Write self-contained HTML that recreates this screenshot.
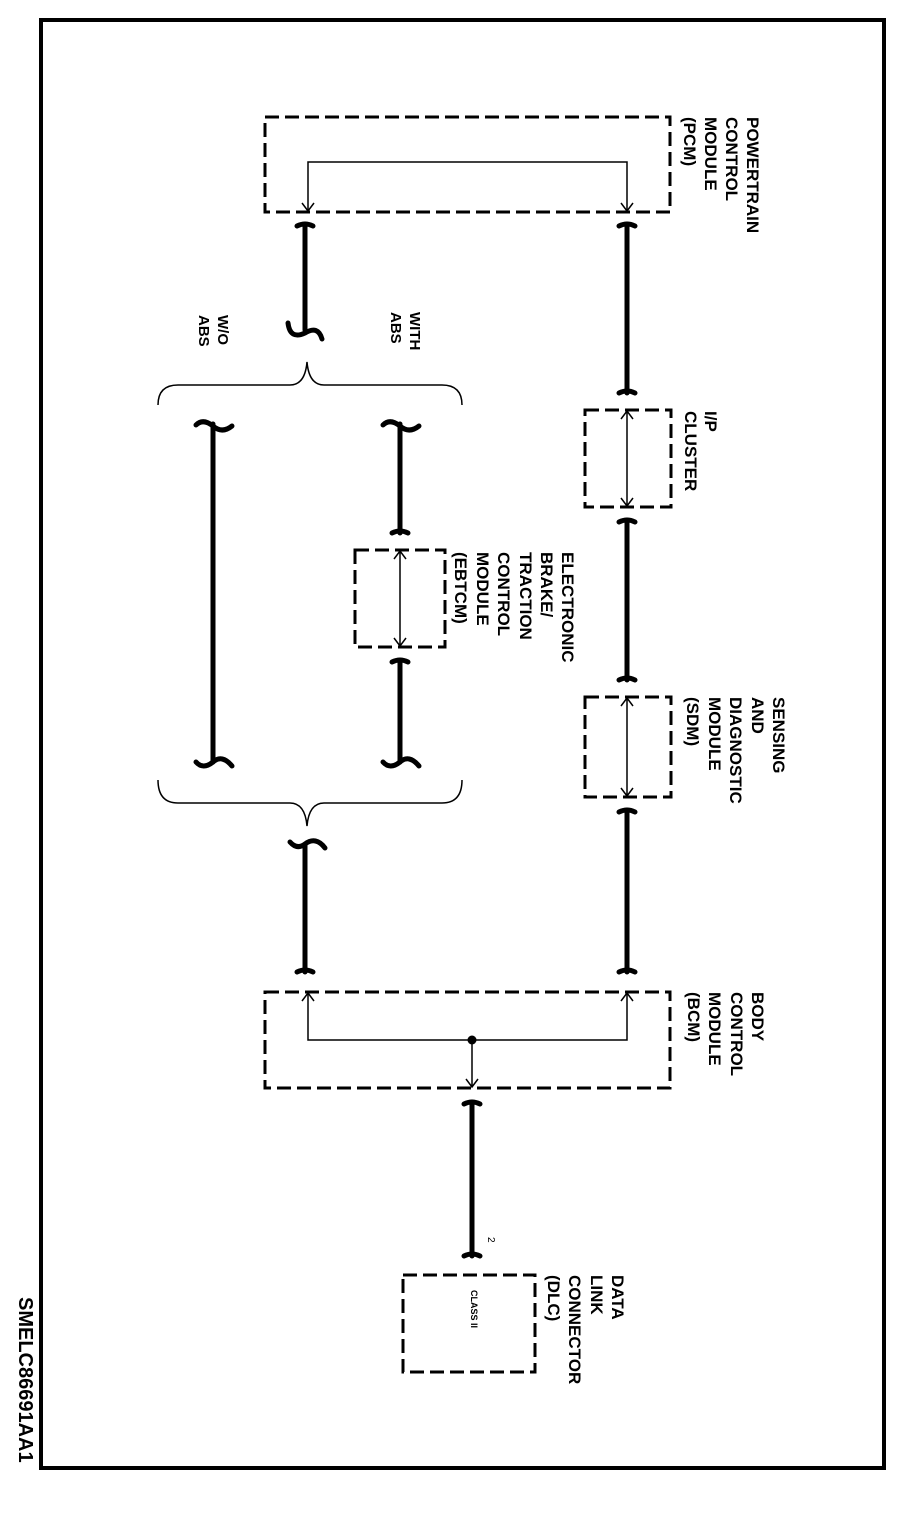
<!DOCTYPE html>
<html><head><meta charset="utf-8"><style>
html,body{margin:0;padding:0;background:#fff}
svg{display:block}
text{font-family:"Liberation Sans",Arial,sans-serif;fill:#000}
</style></head><body>
<svg width="900" height="1520" viewBox="0 0 900 1520" xmlns="http://www.w3.org/2000/svg">
<rect x="41" y="20" width="843" height="1448" fill="none" stroke="#000" stroke-width="4"/>
<text transform="translate(19,1297) rotate(90)" font-size="20" font-weight="bold">SMELC86691AA1</text>

<g fill="none" stroke="#000" stroke-width="3" stroke-dasharray="14,6">
<rect x="265" y="117" width="405" height="95"/>
<rect x="585" y="410" width="86" height="97"/>
<rect x="585" y="697" width="86" height="100"/>
<rect x="355" y="550" width="90" height="97"/>
<rect x="265" y="992" width="405" height="96"/>
<rect x="403" y="1275" width="132" height="97"/>
</g>

<g fill="none" stroke="#000" stroke-width="1.5">
<path d="M308 211 V162 H627 V211"/>
<path d="M302 203 L308 211 L314 203 M621 203 L627 211 L633 203"/>
<path d="M627 411 V506 M621 419 L627 411 L633 419 M621 498 L627 506 L633 498"/>
<path d="M627 698 V796 M621 706 L627 698 L633 706 M621 788 L627 796 L633 788"/>
<path d="M400 551 V646 M394 559 L400 551 L406 559 M394 638 L400 646 L406 638"/>
<path d="M308 993 V1040 H627 V993"/>
<path d="M302 1001 L308 993 L314 1001 M621 1001 L627 993 L633 1001"/>
<path d="M472 1040 V1087 M466 1079 L472 1087 L478 1079"/>
<path d="M158 405 Q158 385 178 385 H290 Q305 385 307 362 Q309 385 324 385 H442 Q462 385 462 405"/>
<path d="M158 780 Q158 803 178 803 H290 Q305 803 307 826 Q309 803 324 803 H442 Q462 803 462 780"/>
</g>
<circle cx="472" cy="1040" r="4.5" fill="#000"/>

<g fill="none" stroke="#000" stroke-width="5" stroke-linecap="round">
<path d="M305 224 V330"/><path d="M297 226 Q305 222 313 226"/>
<path d="M627 224 V393"/><path d="M619 226 Q627 222 635 226 M619 393 Q627 389 635 393"/>
<path d="M627 520 V680"/><path d="M619 522 Q627 518 635 522 M619 680 Q627 676 635 680"/>
<path d="M627 810 V972"/><path d="M619 812 Q627 808 635 812 M619 972 Q627 968 635 972"/>
<path d="M305 845 V972"/><path d="M297 972 Q305 968 313 972"/>
<path d="M472 1102 V1256"/><path d="M464 1104 Q472 1100 480 1104 M464 1256 Q472 1252 480 1256"/>
<path d="M213 424 V762"/>
<path d="M400 424 V533"/><path d="M392 533 Q400 529 408 533"/>
<path d="M400 662 V762"/><path d="M392 662 Q400 658 408 662"/>
<path d="M288 323 Q290 340 305 333 Q318 325 322 339"/>
<path d="M196 425 Q203 418 213 426 Q222 434 232 426"/>
<path d="M383 425 Q390 418 400 426 Q409 434 419 426"/>
<path d="M196 762 Q203 770 213 762 Q222 754 232 766"/>
<path d="M383 762 Q390 770 400 762 Q409 754 419 766"/>
<path d="M290 842 Q297 850 305 844 Q316 836 325 848"/>
</g>

<g font-size="17" font-weight="bold">
<text transform="translate(747,117) rotate(90)">POWERTRAIN</text>
<text transform="translate(726,117) rotate(90)">CONTROL</text>
<text transform="translate(705,117) rotate(90)">MODULE</text>
<text transform="translate(684,117) rotate(90)">(PCM)</text>

<text transform="translate(705,411) rotate(90)">I/P</text>
<text transform="translate(685,411) rotate(90)">CLUSTER</text>

<text transform="translate(773,697) rotate(90)">SENSING</text>
<text transform="translate(752,697) rotate(90)">AND</text>
<text transform="translate(730,697) rotate(90)">DIAGNOSTIC</text>
<text transform="translate(709,697) rotate(90)">MODULE</text>
<text transform="translate(687,697) rotate(90)">(SDM)</text>

<text transform="translate(752,992) rotate(90)">BODY</text>
<text transform="translate(731,992) rotate(90)">CONTROL</text>
<text transform="translate(709,992) rotate(90)">MODULE</text>
<text transform="translate(688,992) rotate(90)">(BCM)</text>

<text transform="translate(612,1275) rotate(90)">DATA</text>
<text transform="translate(591,1275) rotate(90)">LINK</text>
<text transform="translate(569,1275) rotate(90)">CONNECTOR</text>
<text transform="translate(548,1275) rotate(90)">(DLC)</text>

<text transform="translate(562,552) rotate(90)">ELECTRONIC</text>
<text transform="translate(541,552) rotate(90)">BRAKE/</text>
<text transform="translate(520,552) rotate(90)">TRACTION</text>
<text transform="translate(498,552) rotate(90)">CONTROL</text>
<text transform="translate(477,552) rotate(90)">MODULE</text>
<text transform="translate(455,552) rotate(90)">(EBTCM)</text>

<text transform="translate(410,312) rotate(90)" font-size="15">WITH</text>
<text transform="translate(391,312) rotate(90)" font-size="15">ABS</text>
<text transform="translate(218,315) rotate(90)" font-size="15">W/O</text>
<text transform="translate(199,315) rotate(90)" font-size="15">ABS</text>
</g>
<text transform="translate(488,1237) rotate(90)" font-size="10">2</text>
<text transform="translate(471,1290) rotate(90)" font-size="9" font-weight="bold">CLASS II</text>
</svg>
</body></html>
